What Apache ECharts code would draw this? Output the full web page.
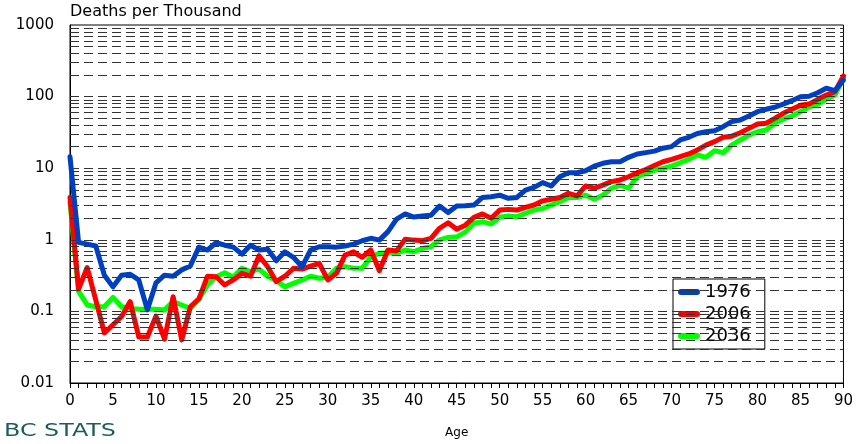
<!DOCTYPE html>
<html>
<head>
<meta charset="utf-8">
<script src="https://cdn.jsdelivr.net/npm/echarts@6/dist/echarts.min.js"></script>
<style>
  html, body { margin: 0; padding: 0; background: #fff; }
  #chart { width: 856px; height: 444px; }
</style>
</head>
<body>
<div id="chart"></div>
<script>
// Age (years) along the horizontal axis
const ages = [0,1,2,3,4,5,6,7,8,9,10,11,12,13,14,15,16,17,18,19,20,21,22,23,24,25,26,27,28,29,
  30,31,32,33,34,35,36,37,38,39,40,41,42,43,44,45,46,47,48,49,50,51,52,53,54,55,56,57,58,59,
  60,61,62,63,64,65,66,67,68,69,70,71,72,73,74,75,76,77,78,79,80,81,82,83,84,85,86,87,88,89,90];

// Deaths per thousand, by single year of age
const rate1976 = [14.5,0.92,0.87,0.82,0.32,0.22,0.32,0.33,0.275,0.105,
  0.25,0.32,0.31,0.38,0.43,0.79,0.72,0.91,0.84,0.79,
  0.63,0.84,0.72,0.74,0.51,0.68,0.57,0.42,0.72,0.80,
  0.80,0.79,0.82,0.87,0.97,1.05,0.99,1.3,1.95,2.3,
  2.08,2.15,2.2,2.96,2.4,2.96,3.0,3.06,3.9,4.0,
  4.2,3.8,3.9,4.95,5.4,6.3,5.65,7.6,8.65,8.65,
  9.2,10.7,11.7,12.3,12.3,14.2,15.8,16.5,17.3,19,
  20,24.8,27,30.6,32.3,33.3,38,44.7,47,53.5,
  61.6,66.5,71,78.7,87.7,99.5,101,113,131,121,170];

const rate2006 = [3.9,0.205,0.41,0.144,0.05,0.065,0.085,0.137,0.044,0.044,
  0.086,0.041,0.16,0.04,0.116,0.15,0.31,0.305,0.234,0.275,
  0.34,0.31,0.6,0.42,0.26,0.31,0.4,0.39,0.43,0.47,
  0.275,0.34,0.61,0.68,0.57,0.72,0.37,0.72,0.70,1.02,
  0.99,0.97,1.05,1.45,1.73,1.4,1.6,2.06,2.3,2.0,
  2.6,2.66,2.6,2.84,3.06,3.5,3.68,3.9,4.46,4.1,
  5.65,5.25,5.8,6.5,6.85,7.6,8.65,9.6,10.9,12.3,
  13.3,14.5,15.8,18,21,23.5,27,28,31.3,36,
  41.5,42.5,49.6,58.5,66.5,76,78.6,91.5,105,117,194];

const rate2036 = [3.3,0.19,0.123,0.116,0.116,0.157,0.116,0.11,0.107,0.107,
  0.107,0.105,0.137,0.123,0.11,0.148,0.234,0.305,0.347,0.3,
  0.4,0.36,0.39,0.31,0.27,0.22,0.246,0.275,0.31,0.29,
  0.3,0.4,0.42,0.4,0.4,0.58,0.65,0.66,0.65,0.72,
  0.68,0.76,0.8,1.0,1.08,1.1,1.28,1.7,1.79,1.66,
  2.06,2.15,2.1,2.35,2.6,2.75,3.06,3.4,3.9,3.9,
  4.2,3.68,4.2,5.25,5.8,5.25,7.6,8.5,9.4,9.9,
  10.7,11.9,13.3,15.3,14.2,17.5,16.5,21,24.8,29,
  32.3,34.2,42.5,48.4,53.5,61.6,72,78.6,91.5,105,180];

const seriesNames = ['1976', '2006', '2036'];
const seriesColors = ['#003fbf', '#ff0000', '#00ff00'];
const yTickLabels = ['0.01', '0.1', '1', '10', '100', '1000'];

// Dashed reference lines at 1..9 x each power of ten (the 1000 line is the frame)
const gridLevels = [];
for (let e = -2; e <= 2; e++) {
  for (let m = 1; m <= 9; m++) {
    if (e === -2 && m === 1) continue;
    gridLevels.push(Number((m * Math.pow(10, e)).toPrecision(3)));
  }
}

const pairs = vals => ages.map((a, i) => [a, vals[i]]);
const FONT = 'DejaVu Sans';
// Rounded bar used as the legend key
const KEY_ICON = 'path://M3,0 L19,0 A3,3 0 0 1 19,6 L3,6 A3,3 0 0 1 3,0 Z';

const lineSeries = (name, vals, color, z) => ({
  name, type: 'line', data: pairs(vals), z,
  showSymbol: false, symbol: 'none', color,
  itemStyle: { color },
  lineStyle: { width: 5, color, join: 'round', cap: 'round' }
});

const chart = echarts.init(document.getElementById('chart'), null, { renderer: 'canvas' });

chart.setOption({
  animation: false,
  backgroundColor: '#fff',
  grid: {
    left: 70, right: 10, top: 25, bottom: 61,
    show: true, borderColor: '#000', borderWidth: 1, backgroundColor: 'transparent'
  },
  graphic: [
    {
      type: 'text', left: 4, top: 423, scaleX: 1.4,
      style: { text: 'BC STATS', fill: '#1d5c5c', font: '17px "DejaVu Sans"' }
    }
  ],
  legend: {
    data: seriesNames.map((n, i) => ({ name: n, icon: KEY_ICON, itemStyle: { color: seriesColors[i], borderWidth: 0 } })),
    orient: 'vertical',
    left: 673, top: 279,
    padding: [4, 14, 4, 5],
    itemGap: 4,
    itemWidth: 22, itemHeight: 6,
    itemStyle: { borderWidth: 0 },
    lineStyle: { width: 0, opacity: 0 },
    backgroundColor: '#fff',
    borderColor: '#000', borderWidth: 1,
    textStyle: { fontFamily: FONT, fontSize: 18, color: '#000' }
  },
  xAxis: {
    type: 'value', min: 0, max: 90, interval: 5,
    name: 'Age', nameLocation: 'middle', nameGap: 44,
    nameTextStyle: { fontFamily: FONT, fontSize: 12, color: '#000' },
    axisLine: { show: true, lineStyle: { color: '#000', width: 1 } },
    axisTick: { show: true, length: 5, lineStyle: { color: '#000' } },
    minorTick: { show: true, splitNumber: 5, length: 5, lineStyle: { color: '#000' } },
    axisLabel: { fontFamily: FONT, fontSize: 15, color: '#000', margin: 11 },
    splitLine: { show: false }
  },
  yAxis: {
    type: 'log', logBase: 10, min: 0.01, max: 1000, splitNumber: 5,
    name: 'Deaths per Thousand', nameLocation: 'end', nameGap: 5,
    nameTextStyle: { fontFamily: FONT, fontSize: 16, color: '#000', align: 'left', verticalAlign: 'bottom' },
    axisLine: { show: true, lineStyle: { color: '#000', width: 1 } },
    axisTick: { show: false },
    axisLabel: {
      fontFamily: FONT, fontSize: 15, color: '#000', margin: 16,
      formatter: v => {
        const k = Math.round(Math.log10(v)) + 2;
        return yTickLabels[k] !== undefined ? yTickLabels[k] : '';
      }
    },
    splitLine: { show: false }
  },
  series: [
    {
      name: 'grid', type: 'line', data: [], silent: true, z: 1,
      markLine: {
        silent: true, symbol: ['none', 'none'], animation: false,
        label: { show: false },
        lineStyle: { type: [9, 5], color: '#333', width: 1 },
        emphasis: { disabled: true },
        data: gridLevels.map(v => ({ yAxis: v }))
      }
    },
    lineSeries(seriesNames[0], rate1976, seriesColors[0], 5),
    lineSeries(seriesNames[1], rate2006, seriesColors[1], 4),
    lineSeries(seriesNames[2], rate2036, seriesColors[2], 3)
  ]
});
</script>
</body>
</html>
